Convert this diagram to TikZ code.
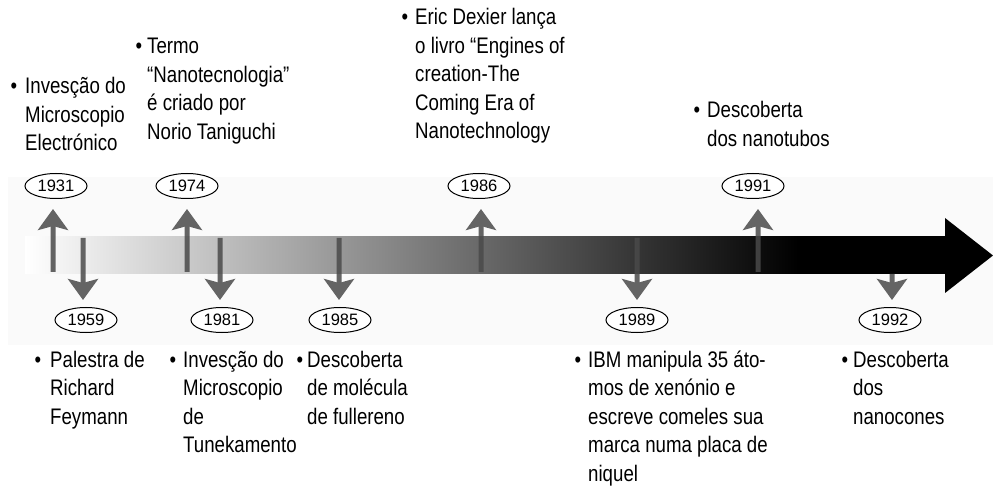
\documentclass[tikz,border=0pt]{standalone}
\usepackage{fontspec}
\setmainfont{Liberation Sans}
\newfontfamily\narrowfont{Liberation Sans}[FakeStretch=0.83]
\usetikzlibrary{arrows.meta,shapes.geometric}
\pgfdeclarehorizontalshading{timeline}{100bp}{color(0bp)=(white); color(25bp)=(white); color(67bp)=(black); color(100bp)=(black)}
\definecolor{bandgray}{RGB}{250,250,250}
\definecolor{arrowgray}{RGB}{74,74,74}
\tikzset{
  yearbox/.style={ellipse, draw=black, line width=1pt, fill=white, minimum width=62pt, minimum height=25pt, inner sep=0pt, font=\fontsize{16.5}{16.5}\selectfont},
  evarrow/.style={draw=arrowgray, line width=5pt, -{Stealth[length=21pt,width=30pt,inset=4pt]}},
  evtext/.style={anchor=base west, inner sep=0pt, font=\narrowfont\fontsize{22.5}{28.5}\selectfont},
  evbullet/.style={anchor=base, inner sep=0pt, font=\narrowfont\fontsize{22.5}{28.5}\selectfont}
}
\begin{document}
\begin{tikzpicture}[x=1pt,y=-1pt]
\useasboundingbox (0,0) rectangle (993,494);
% background band
\fill[bandgray] (8,177) rectangle (993,345);
% timeline arrow
\shade[shading=timeline] (25,237) rectangle (945,274);
\fill[black] (945,218) -- (993,255.5) -- (945,293) -- cycle;

% year ellipses
\node[yearbox] (e1931) at (56,186) {1931};
\node[yearbox] (e1974) at (187,186) {1974};
\node[yearbox] (e1986) at (479,186) {1986};
\node[yearbox] (e1991) at (753,186) {1991};
\node[yearbox] (e1959) at (86,320) {1959};
\node[yearbox] (e1981) at (222,320) {1981};
\node[yearbox] (e1985) at (340,320) {1985};
\node[yearbox] (e1989) at (637,320) {1989};
\node[yearbox] (e1992) at (890,320) {1992};

% arrow start points
\coordinate (s1931) at (53,272);
\coordinate (s1974) at (187,272);
\coordinate (s1986) at (481,272);
\coordinate (s1991) at (758,272);
\coordinate (s1959) at (83,238);
\coordinate (s1981) at (220,238);
\coordinate (s1985) at (339,238);
\coordinate (s1989) at (637,238);
\coordinate (s1992) at (892,274);

\begin{scope}[transparency group, opacity=0.85]
\draw[evarrow, shorten >=10pt] (s1931) -- (s1931 |- e1931.south);
\draw[evarrow, shorten >=10pt] (s1974) -- (s1974 |- e1974.south);
\draw[evarrow, shorten >=10pt] (s1986) -- (s1986 |- e1986.south);
\draw[evarrow, shorten >=10pt] (s1991) -- (s1991 |- e1991.south);
\draw[evarrow, shorten >=7pt] (s1959) -- (s1959 |- e1959.north);
\draw[evarrow, shorten >=7pt] (s1981) -- (s1981 |- e1981.north);
\draw[evarrow, shorten >=7pt] (s1985) -- (s1985 |- e1985.north);
\draw[evarrow, shorten >=7pt] (s1989) -- (s1989 |- e1989.north);
\draw[evarrow, shorten >=7pt] (s1992) -- (s1992 |- e1992.north);
\end{scope}

% texts above
\node[evbullet] (b1931) at (14,94) {•};
\node[evtext] (t1931) at (25,94) {\begin{tabular}[t]{@{}l@{}}Invesção do\\Microscopio\\Electrónico\end{tabular}};
\node[evbullet] (b1974) at (139,54) {•};
\node[evtext] (t1974) at (147,54) {\begin{tabular}[t]{@{}l@{}}Termo\\“Nanotecnologia”\\é criado por\\Norio Taniguchi\end{tabular}};
\node[evbullet] (b1986) at (405,25) {•};
\node[evtext] (t1986) at (415,25) {\begin{tabular}[t]{@{}l@{}}Eric Dexier lança\\o livro “Engines of\\creation-The\\Coming Era of\\Nanotechnology\end{tabular}};
\node[evbullet] (b1991) at (697,118) {•};
\node[evtext] (t1991) at (707,118) {\begin{tabular}[t]{@{}l@{}}Descoberta\\dos nanotubos\end{tabular}};

% texts below
\node[evbullet] (b1959) at (38,367) {•};
\node[evtext] (t1959) at (50,367) {\begin{tabular}[t]{@{}l@{}}Palestra de\\Richard\\Feymann\end{tabular}};
\node[evbullet] (b1981) at (173,367) {•};
\node[evtext] (t1981) at (183,367) {\begin{tabular}[t]{@{}l@{}}Invesção do\\Microscopio\\de\\Tunekamento\end{tabular}};
\node[evbullet] (b1985) at (300,367) {•};
\node[evtext] (t1985) at (307,367) {\begin{tabular}[t]{@{}l@{}}Descoberta\\de molécula\\de fullereno\end{tabular}};
\node[evbullet] (b1989) at (578,367) {•};
\node[evtext] (t1989) at (588,367) {\begin{tabular}[t]{@{}l@{}}IBM manipula 35 áto-\\mos de xenónio e\\escreve comeles sua\\marca numa placa de\\niquel\end{tabular}};
\node[evbullet] (b1992) at (845,367) {•};
\node[evtext] (t1992) at (853,367) {\begin{tabular}[t]{@{}l@{}}Descoberta\\dos\\nanocones\end{tabular}};
\end{tikzpicture}
\end{document}
